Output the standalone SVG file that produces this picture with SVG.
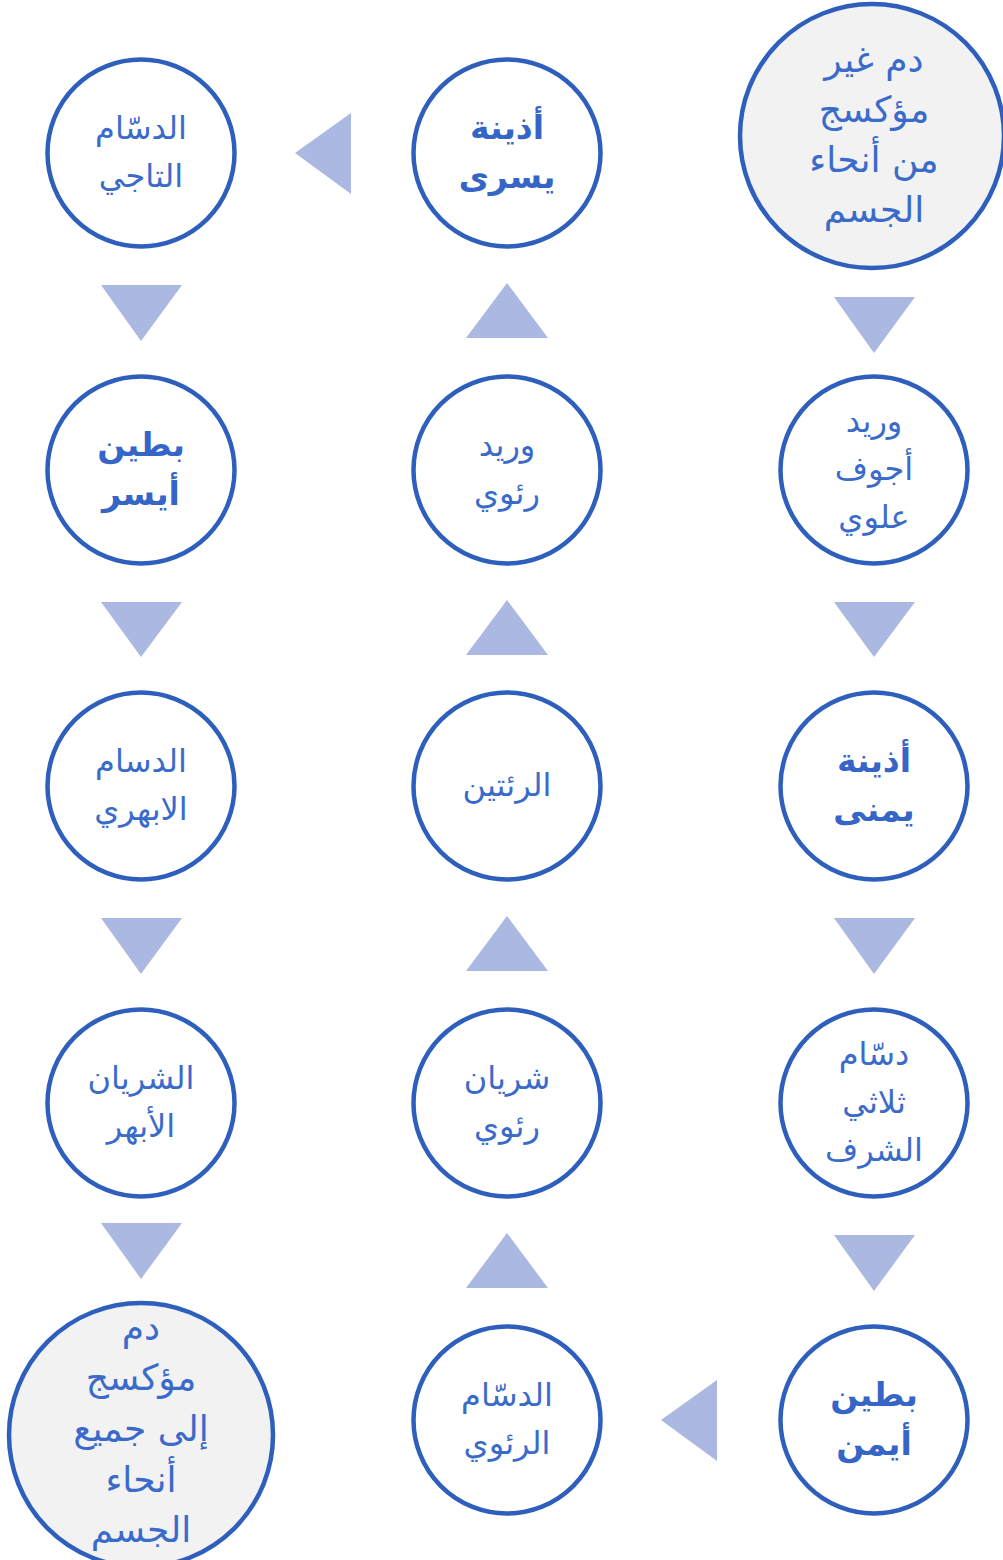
<svg xmlns="http://www.w3.org/2000/svg" width="1003" height="1560" viewBox="0 0 1003 1560">
<style>
.n{fill:#ffffff;stroke:#2f5fbd;stroke-width:4.5}
.big{fill:#f2f2f2;stroke:#2f5fbd;stroke-width:4.5}
.t{font-family:"DejaVu Sans",sans-serif;font-size:32px;fill:#3a6bca;text-anchor:middle}
.tb{font-family:"DejaVu Sans",sans-serif;font-size:33px;font-weight:bold;fill:#3565c6;text-anchor:middle}
.tl{font-family:"DejaVu Sans",sans-serif;font-size:36px;fill:#3a6bca;text-anchor:middle}
.a{fill:#abb8e1}
</style>
<rect width="1003" height="1560" fill="#ffffff"/>
<g id="connectors">
<polygon class="a" points="834,297 915,297 874,353"/>
<polygon class="a" points="834,602 915,602 874,657"/>
<polygon class="a" points="834,918 915,918 874,974"/>
<polygon class="a" points="834,1235 915,1235 874,1291"/>
<polygon class="a" points="661,1420 717,1380 717,1461"/>
<polygon class="a" points="466,1288 548,1288 507,1233"/>
<polygon class="a" points="466,971 548,971 507,916"/>
<polygon class="a" points="466,655 548,655 507,600"/>
<polygon class="a" points="466,338 548,338 507,283"/>
<polygon class="a" points="295,153 351,113 351,194"/>
<polygon class="a" points="101,285 182,285 141,341"/>
<polygon class="a" points="101,602 182,602 141,657"/>
<polygon class="a" points="101,918 182,918 141,974"/>
<polygon class="a" points="101,1223 182,1223 141,1279"/>
</g>
<g id="n1">
<circle class="big" cx="872" cy="136" r="132"/>
<text class="tl" x="874" y="72">دم غير</text>
<text class="tl" x="874" y="122">مؤكسج</text>
<text class="tl" x="874" y="172">من أنحاء</text>
<text class="tl" x="874" y="222">الجسم</text>
</g>
<g id="n2">
<circle class="n" cx="874" cy="470" r="93.5"/>
<text class="t" x="874" y="432">وريد</text>
<text class="t" x="874" y="480">أجوف</text>
<text class="t" x="874" y="528">علوي</text>
</g>
<g id="n3">
<circle class="n" cx="874" cy="786" r="93.5"/>
<text class="tb" x="874" y="772">أذينة</text>
<text class="tb" x="874" y="821">يمنى</text>
</g>
<g id="n4">
<circle class="n" cx="874" cy="1103" r="93.5"/>
<text class="t" x="874" y="1065">دسّام</text>
<text class="t" x="874" y="1113">ثلاثي</text>
<text class="t" x="874" y="1161">الشرف</text>
</g>
<g id="n5">
<circle class="n" cx="874" cy="1420" r="93.5"/>
<text class="tb" x="874" y="1406">بطين</text>
<text class="tb" x="874" y="1455">أيمن</text>
</g>
<g id="n6">
<circle class="n" cx="507" cy="1420" r="93.5"/>
<text class="t" x="507" y="1406">الدسّام</text>
<text class="t" x="507" y="1454">الرئوي</text>
</g>
<g id="n7">
<circle class="n" cx="507" cy="1103" r="93.5"/>
<text class="t" x="507" y="1089">شريان</text>
<text class="t" x="507" y="1137">رئوي</text>
</g>
<g id="n8">
<circle class="n" cx="507" cy="786" r="93.5"/>
<text class="t" x="507" y="796">الرئتين</text>
</g>
<g id="n9">
<circle class="n" cx="507" cy="470" r="93.5"/>
<text class="t" x="507" y="456">وريد</text>
<text class="t" x="507" y="504">رئوي</text>
</g>
<g id="n10">
<circle class="n" cx="507" cy="153" r="93.5"/>
<text class="tb" x="507" y="139">أذينة</text>
<text class="tb" x="507" y="188">يسرى</text>
</g>
<g id="n11">
<circle class="n" cx="141" cy="153" r="93.5"/>
<text class="t" x="141" y="139">الدسّام</text>
<text class="t" x="141" y="187">التاجي</text>
</g>
<g id="n12">
<circle class="n" cx="141" cy="470" r="93.5"/>
<text class="tb" x="141" y="456">بطين</text>
<text class="tb" x="141" y="505">أيسر</text>
</g>
<g id="n13">
<circle class="n" cx="141" cy="786" r="93.5"/>
<text class="t" x="141" y="772">الدسام</text>
<text class="t" x="141" y="820">الابهري</text>
</g>
<g id="n14">
<circle class="n" cx="141" cy="1103" r="93.5"/>
<text class="t" x="141" y="1089">الشريان</text>
<text class="t" x="141" y="1137">الأبهر</text>
</g>
<g id="n15">
<circle class="big" cx="141" cy="1435" r="132"/>
<text class="tl" x="141" y="1340">دم</text>
<text class="tl" x="141" y="1390">مؤكسج</text>
<text class="tl" x="141" y="1441">إلى جميع</text>
<text class="tl" x="141" y="1492">أنحاء</text>
<text class="tl" x="141" y="1542">الجسم</text>
</g>
</svg>
